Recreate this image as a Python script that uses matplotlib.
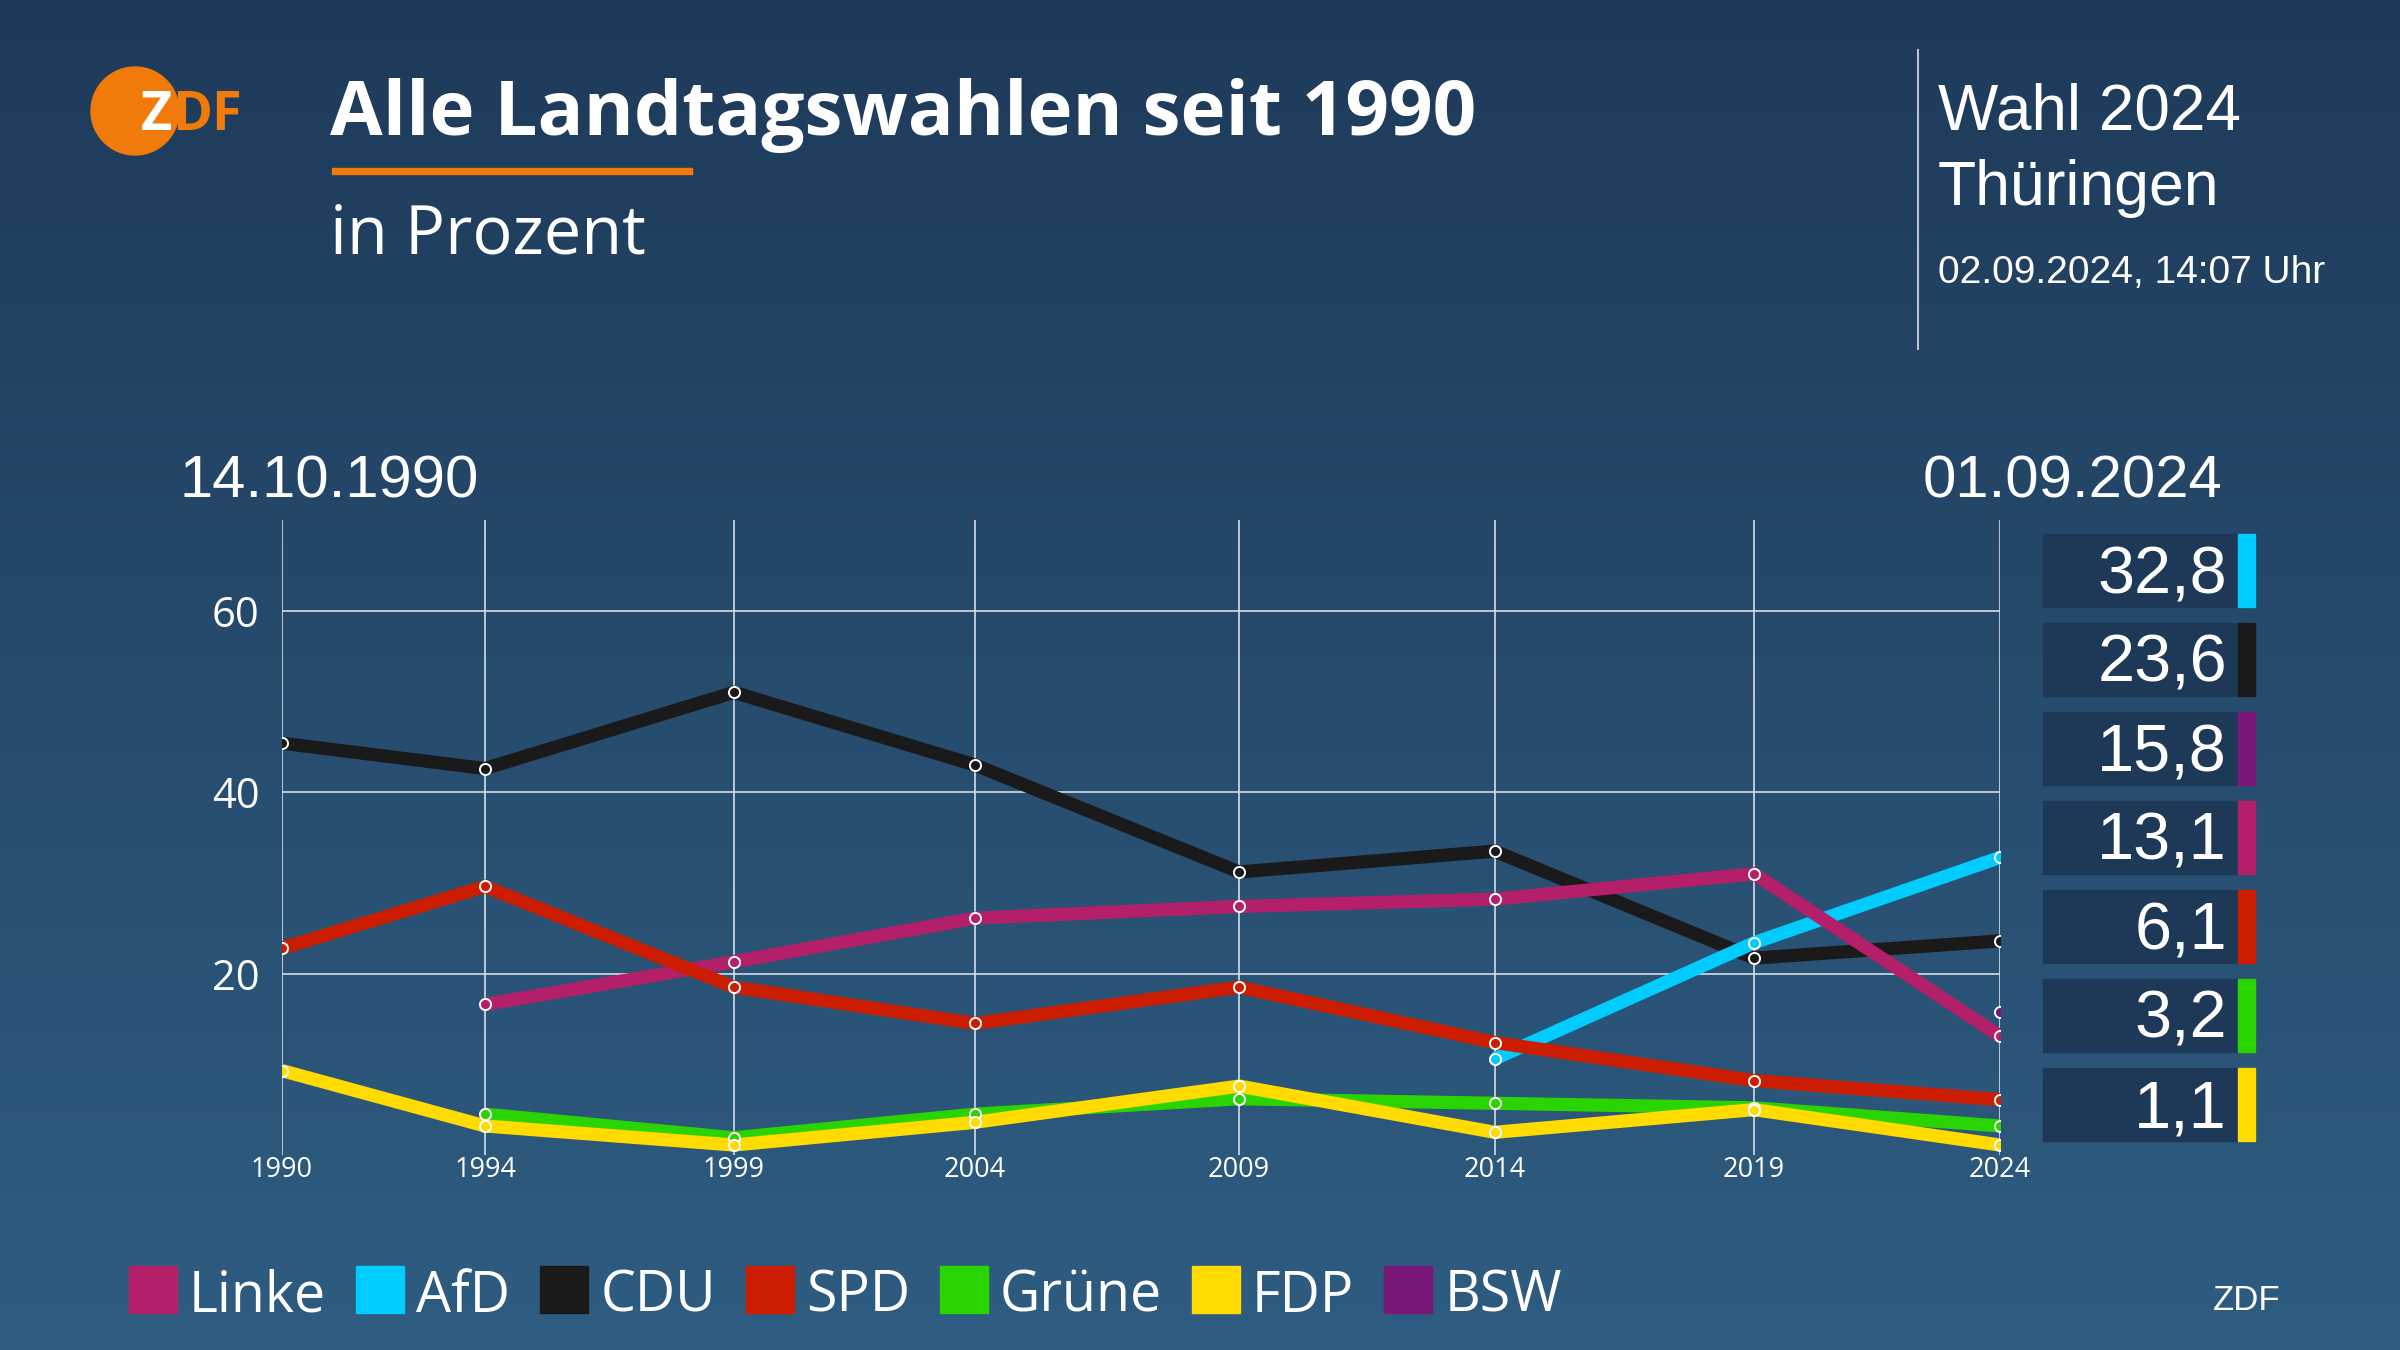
import matplotlib
matplotlib.use("Agg")
import matplotlib.pyplot as plt
import matplotlib.dates as mdates
from matplotlib.patches import Rectangle, Circle
import numpy as np
from datetime import date

# Landtagswahlen Thüringen, Ergebnisse in Prozent
dates = [date(1990, 10, 14), date(1994, 10, 16), date(1999, 9, 12), date(2004, 6, 13),
         date(2009, 8, 30), date(2014, 9, 14), date(2019, 10, 27), date(2024, 9, 1)]
years = [d.year for d in dates]

nan = np.nan
linke = [nan, 16.6, 21.3, 26.1, 27.4, 28.2, 31.0, 13.1]
afd = [nan, nan, nan, nan, nan, 10.6, 23.4, 32.8]
cdu = [45.4, 42.6, 51.0, 43.0, 31.2, 33.5, 21.7, 23.6]
spd = [22.8, 29.6, 18.5, 14.5, 18.5, 12.4, 8.2, 6.1]
gruene = [nan, 4.5, 1.9, 4.5, 6.2, 5.7, 5.2, 3.2]
fdp = [9.3, 3.2, 1.1, 3.6, 7.6, 2.5, 5.0, 1.1]
bsw = [nan, nan, nan, nan, nan, nan, nan, 15.8]

parties = ["Linke", "AfD", "CDU", "SPD", "Grüne", "FDP", "BSW"]
series = [linke, afd, cdu, spd, gruene, fdp, bsw]
colors = ["#b41f69", "#00ccff", "#1a1a1a", "#cc1d00", "#2ad400", "#ffdb00", "#791878"]
draw_order = ["CDU", "AfD", "Linke", "SPD", "Grüne", "FDP", "BSW"]

TXT = "Open Sans"
NUM = "Liberation Sans"
ORANGE = "#f07a0a"
BOX = "#1e3858"

fig = plt.figure(figsize=(24, 13.5), dpi=100)

# background with gradient, pixel coordinates
bg = fig.add_axes([0, 0, 1, 1], zorder=0)
top = np.array([30, 58, 90]) / 255
bot = np.array([46, 93, 129]) / 255
g = np.linspace(0, 1, 256)[:, None, None]
img = top + (bot - top) * g
bg.imshow(img, extent=[0, 2400, 1350, 0], aspect="auto")
bg.set_xlim(0, 2400)
bg.set_ylim(1350, 0)
bg.axis("off")

# chart
ax = fig.add_axes([282 / 2400, 1 - 1155 / 1350, (2000 - 282) / 2400, (1155 - 520) / 1350], zorder=1)
ax.patch.set_alpha(0)
x = mdates.date2num(dates)
for name in draw_order:
    i = parties.index(name)
    y = np.array(series[i], dtype=float)
    ax.plot(x, y, color=colors[i], lw=9.5, solid_capstyle="butt",
            solid_joinstyle="miter", zorder=2)
for name in draw_order:
    i = parties.index(name)
    y = np.array(series[i], dtype=float)
    ax.plot(x, y, ls="none", marker="o", ms=8, mfc=colors[i], mec="white",
            mew=1.4, zorder=5)

ax.set_xlim(x[0], x[-1])
ax.set_ylim(0, 70)
ax.set_xticks(x)
ax.set_xticklabels(years)
ax.set_yticks([20, 40, 60])
ax.grid(True, color="#d5dde6", lw=1.2, zorder=1)
for s in ax.spines.values():
    s.set_visible(False)
ax.tick_params(axis="both", length=0, colors="white")
ax.tick_params(axis="x", pad=1, labelsize=19.5)
ax.tick_params(axis="y", pad=16, labelsize=30)
for lab in ax.get_xticklabels() + ax.get_yticklabels():
    lab.set_fontfamily(TXT)

# logo
bg.add_patch(Circle((135, 111), 44, color=ORANGE))
tz = bg.text(141, 130, "Z", color="white", fontsize=39, fontweight="bold",
             family=TXT, va="baseline")
bg.annotate("DF", xy=(1, 0), xycoords=tz, va="bottom", ha="left", color=ORANGE,
            fontsize=39, fontweight="bold", family=TXT)

# title block
bg.text(330, 135, "Alle Landtagswahlen seit 1990", color="white", fontsize=55,
        fontweight="bold", family=TXT, va="baseline")
bg.add_patch(Rectangle((332, 168), 360, 6, color=ORANGE))
bg.text(330, 253, "in Prozent", color="white", fontsize=48, family=TXT, va="baseline")

bg.plot([1918, 1918], [50, 349], color="#b9c3cd", lw=1.5)
bg.text(1938, 130, "Wahl 2024", color="white", fontsize=46, family=NUM, va="baseline")
bg.text(1938, 205, "Thüringen", color="white", fontsize=45, family=NUM, va="baseline")
bg.text(1938, 283, "02.09.2024, 14:07 Uhr", color="white", fontsize=28, family=NUM,
        va="baseline")

bg.text(179, 497, dates[0].strftime("%d.%m.%Y"), color="white", fontsize=43,
        family=NUM, va="baseline")
bg.text(2222, 497, dates[-1].strftime("%d.%m.%Y"), color="white", fontsize=43,
        family=NUM, va="baseline", ha="right")

# latest results boxes
last = [(s[-1], c) for s, c in zip(series, colors)]
last.sort(key=lambda t: -t[0])
for k, (val, col) in enumerate(last):
    yt = 534 + k * 89
    bg.add_patch(Rectangle((2043, yt), 195, 73, color=BOX))
    bg.add_patch(Rectangle((2238, yt), 17, 73, color=col))
    bg.text(2227, yt + 42, f"{val:.1f}".replace(".", ","), color="white",
            fontsize=48, family=NUM, ha="right", va="center")

# legend
fig.canvas.draw()
r = fig.canvas.get_renderer()
xpos = 129
for name, col in zip(parties, colors):
    bg.add_patch(Rectangle((xpos, 1266), 48, 47, color=col))
    t = bg.text(xpos + 60, 1312, name, color="white", fontsize=40, family=TXT,
                va="baseline")
    xpos = xpos + 60 + t.get_window_extent(r).width + 30

bg.text(2247, 1301, "ZDF", color="white", fontsize=25, family=NUM,
        ha="center", va="center")

fig.savefig("out.png", dpi=100)
